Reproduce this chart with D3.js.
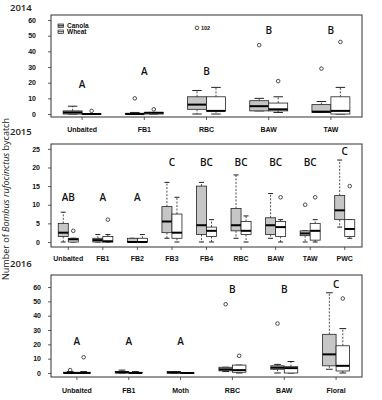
<!DOCTYPE html>
<html lang="en">
<head>
<meta charset="UTF-8">
<title>Bombus rufocinctus bycatch</title>
<style>
    html, body { margin: 0; background: #fff; overflow: hidden; }
    .axis text { font-family: "Liberation Sans", Arial, sans-serif; font-weight: bold; font-size: 7px; fill: #111; }
    .axis line, .axis path { stroke: #333; stroke-width: 0.8; }
</style>
<script src="https://d3js.org/d3.v7.min.js"></script>
</head>
<body>
<svg id="svg"></svg>
<script>
    // [min, q1, median, q3, max] for each trap type
    const cats2014 = ['Unbaited', 'FB1', 'RBC', 'BAW', 'TAW'];
    const canola2014 = [[0, 0, 1, 2, 5], [0, 0, 0, 0.5, 1], [0, 3, 6, 11, 15], [2, 2, 5, 8.5, 10], [1, 1, 1.5, 6, 8]];
    const wheat2014 = [[0, 0, 0, 0, 0], [0, 0, 0.8, 1, 1], [0, 2, 2, 11, 17], [1, 2, 3, 7, 11], [0, 0, 2, 11, 17]];
    const canolaOut2014 = [[], [10], [55], [44], [29]];
    const wheatOut2014 = [[2], [3], [], [21], [46]];
    const letters2014 = ['A', 'A', 'B', 'B', 'B'];
    const letterY2014 = [19, 27, 27, 53, 53];

    const cats2015 = ['Unbaited', 'FB1', 'FB2', 'FB3', 'FB4', 'RBC', 'BAW', 'TAW', 'PWC'];
    const canola2015 = [[0, 1.5, 2.5, 5, 8], [0, 0, 0.5, 1, 2], [0, 0, 0, 1, 1], [1, 2.5, 5.5, 9.5, 16], [0, 2, 4.5, 15, 16],
        [1, 3, 4.5, 9, 18], [1, 2, 4.5, 6.5, 13], [0, 1.7, 2.3, 3, 3], [4, 6, 8.5, 12.5, 22]];
    const wheat2015 = [[0, 0, 0.7, 1, 1], [0, 0, 0.2, 1.5, 2], [0, 0, 0, 1, 2], [0, 1, 2.5, 7.5, 12], [0, 1.5, 3, 4, 6],
        [0, 2, 3, 5.5, 7], [0, 1.5, 4, 5.5, 6], [0, 0.5, 3, 5, 6], [1, 1.5, 3.5, 6, 6]];
    const canolaOut2015 = [[], [], [], [], [], [], [], [10], []];
    const wheatOut2015 = [[3], [6], [], [], [], [], [12], [12], [15]];
    const letters2015 = ['AB', 'A', 'A', 'C', 'BC', 'BC', 'BC', 'BC', 'C'];
    const letterY2015 = [12, 12, 12, 21.3, 21.3, 21.3, 21.3, 21.3, 24.3];

    const cats2016 = ['Unbaited', 'FB1', 'Moth', 'RBC', 'BAW', 'Floral'];
    const canola2016 = [[0, 0, 0, 0.5, 1], [0, 0, 0.5, 1, 2], [0, 0, 0.3, 1, 1], [1, 1.5, 2.5, 4, 4], [0, 2.6, 3.7, 5, 6], [2.6, 5, 13, 27, 56]];
    const wheat2016 = [[0, 0, 0, 0.5, 1], [0, 0, 0, 0.5, 1], [0, 0, 0, 0, 0], [0, 0.5, 2, 5.5, 5.5], [0, 0, 3.4, 4.4, 8], [0, 1.4, 5, 19, 31]];
    const canolaOut2016 = [[2], [], [], [48], [34.5], []];
    const wheatOut2016 = [[11], [], [], [12], [], [52]];
    const letters2016 = ['A', 'A', 'A', 'B', 'B', 'C'];
    const letterY2016 = [22, 22, 22, 58, 58, 62];

    const svg = d3.select('#svg').attr('width', 382).attr('height', 400);
    const left = 51, right = 362;

    const panels = [
        { year: '2014', yearY: 10.5, top: 15, bottom: 117, domain: [-1.9, 63.2], ticks: [0, 10, 20, 30, 40, 50, 60], frac: 0.305, ypad: 12, xpad: 7,
          cats: cats2014, canola: canola2014, wheat: wheat2014, cOut: canolaOut2014, wOut: wheatOut2014, letters: letters2014, letterY: letterY2014 },
        { year: '2015', yearY: 135, top: 144, bottom: 247, domain: [-1.34, 26.3], ticks: [0, 5, 10, 15, 20, 25], frac: 0.29, ypad: 8, xpad: 6,
          cats: cats2015, canola: canola2015, wheat: wheat2015, cOut: canolaOut2015, wOut: wheatOut2015, letters: letters2015, letterY: letterY2015 },
        { year: '2016', yearY: 267, top: 275, bottom: 377, domain: [-2.8, 68.4], ticks: [0, 10, 20, 30, 40, 50, 60], frac: 0.26, ypad: 7, xpad: 8,
          cats: cats2016, canola: canola2016, wheat: wheat2016, cOut: canolaOut2016, wOut: wheatOut2016, letters: letters2016, letterY: letterY2016 }
    ];

    function drawBox(g, s, cx, bw, y, fill) {
        const [mn, q1, md, q3, mx] = s;
        const cap = bw * 0.5;
        g.append('line').attr('x1', cx).attr('x2', cx).attr('y1', y(q3)).attr('y2', y(mx))
            .attr('stroke', '#222').attr('stroke-width', 0.8).attr('stroke-dasharray', '2,1.5');
        g.append('line').attr('x1', cx).attr('x2', cx).attr('y1', y(q1)).attr('y2', y(mn))
            .attr('stroke', '#222').attr('stroke-width', 0.8).attr('stroke-dasharray', '2,1.5');
        [mn, mx].forEach(v => g.append('line').attr('x1', cx - cap / 2).attr('x2', cx + cap / 2)
            .attr('y1', y(v)).attr('y2', y(v)).attr('stroke', '#222').attr('stroke-width', 1));
        g.append('rect').attr('x', cx - bw / 2).attr('width', bw)
            .attr('y', y(q3)).attr('height', Math.max(y(q1) - y(q3), 0.5))
            .attr('fill', fill).attr('stroke', '#222').attr('stroke-width', 0.8);
        g.append('line').attr('x1', cx - bw / 2).attr('x2', cx + bw / 2).attr('y1', y(md)).attr('y2', y(md))
            .attr('stroke', '#000').attr('stroke-width', 2);
    }

    panels.forEach(p => {
        const x = d3.scaleBand().domain(p.cats).range([left, right]);
        const y = d3.scaleLinear().domain(p.domain).range([p.bottom, p.top]);
        const bw = x.bandwidth() * p.frac;
        const g = svg.append('g');

        p.cats.forEach((c, i) => {
            const mid = x(c) + x.bandwidth() / 2;
            drawBox(g, p.canola[i], mid - bw / 2, bw, y, '#c6c6c6');
            drawBox(g, p.wheat[i], mid + bw / 2, bw, y, '#fff');
            p.cOut[i].forEach(v => g.append('circle').attr('cx', mid - bw / 2).attr('cy', y(v)).attr('r', 1.8)
                .attr('fill', 'none').attr('stroke', '#222').attr('stroke-width', 0.8));
            p.wOut[i].forEach(v => g.append('circle').attr('cx', mid + bw / 2).attr('cy', y(v)).attr('r', 1.8)
                .attr('fill', 'none').attr('stroke', '#222').attr('stroke-width', 0.8));
            g.append('text').attr('x', mid).attr('y', y(p.letterY[i])).attr('dy', '0.35em')
                .attr('text-anchor', 'middle').attr('font-family', '"Open Sans", sans-serif')
                .attr('font-weight', 600).attr('font-size', 10).attr('fill', '#111').text(p.letters[i]);
        });

        g.append('g').attr('class', 'axis').attr('transform', `translate(${left},0)`)
            .call(d3.axisLeft(y).tickValues(p.ticks).tickSize(3).tickSizeOuter(0).tickPadding(p.ypad))
            .call(a => a.select('.domain').remove());
        g.append('g').attr('class', 'axis').attr('transform', `translate(0,${p.bottom})`)
            .call(d3.axisBottom(x).tickSize(3).tickSizeOuter(0).tickPadding(p.xpad))
            .call(a => a.select('.domain').remove());

        g.append('rect').attr('x', left).attr('y', p.top).attr('width', right - left).attr('height', p.bottom - p.top)
            .attr('fill', 'none').attr('stroke', '#333').attr('stroke-width', 1);

        svg.append('text').attr('x', 10).attr('y', p.yearY).attr('font-family', '"Open Sans", sans-serif')
            .attr('font-weight', 600).attr('font-size', 9.5).attr('fill', '#222').text(p.year);

        p.x = x; p.y = y; p.bw = bw;
    });

    // "102" label next to the clipped RBC outlier (2014)
    const p0 = panels[0];
    svg.append('text').attr('x', p0.x('RBC') + p0.x.bandwidth() / 2 - p0.bw / 2 + 4).attr('y', p0.y(canolaOut2014[2][0]))
        .attr('dy', '0.35em').attr('font-family', '"Liberation Sans", Arial, sans-serif').attr('font-weight', 'bold')
        .attr('font-size', 5.5).attr('fill', '#111').text('102');

    // legend
    const legend = svg.append('g').attr('transform', 'translate(58,24)');
    [['Canola', '#c6c6c6'], ['Wheat', '#fff']].forEach((d, i) => {
        const lg = legend.append('g').attr('transform', `translate(0,${i * 6})`);
        lg.append('rect').attr('width', 5.5).attr('height', 3.5).attr('fill', d[1]).attr('stroke', '#222').attr('stroke-width', 0.7);
        lg.append('line').attr('x1', 0).attr('x2', 5.5).attr('y1', 1.75).attr('y2', 1.75).attr('stroke', '#000').attr('stroke-width', 0.8);
        lg.append('text').attr('x', 9).attr('y', 3.5).attr('font-family', '"Liberation Sans", Arial, sans-serif')
            .attr('font-weight', 'bold').attr('font-size', 6.5).attr('fill', '#111').text(d[0]);
    });

    // y axis title
    const title = svg.append('text').attr('transform', 'translate(9,199) rotate(-90)').attr('text-anchor', 'middle')
        .attr('font-family', '"Open Sans", sans-serif').attr('font-size', 9).attr('fill', '#222');
    title.append('tspan').text('Number of ');
    title.append('tspan').attr('font-style', 'italic').text('Bombus rufocinctus');
    title.append('tspan').text(' bycatch');
</script>
</body>
</html>
